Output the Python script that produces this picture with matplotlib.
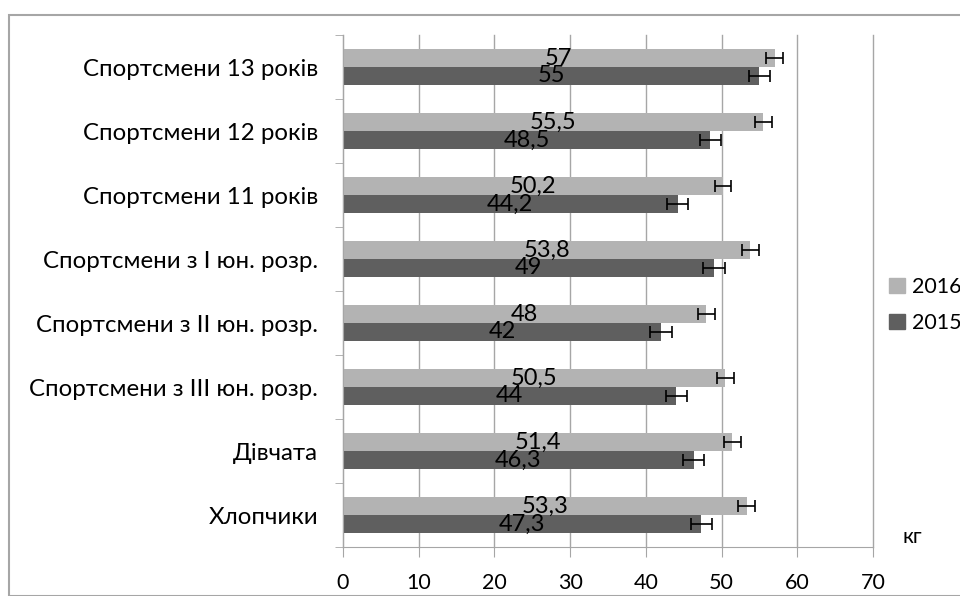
import matplotlib
matplotlib.use("Agg")
import matplotlib.pyplot as plt
from matplotlib.patches import Rectangle
import numpy as np

plt.rcParams['font.family'] = ['Lato', 'DejaVu Sans']

categories = ["Хлопчики", "Дівчата", "Спортсмени з ІІІ юн. розр.", "Спортсмени з ІІ юн. розр.",
              "Спортсмени з І юн. розр.", "Спортсмени 11 років", "Спортсмени 12 років", "Спортсмени 13 років"]
v2016 = [53.3, 51.4, 50.5, 48.0, 53.8, 50.2, 55.5, 57.0]
v2015 = [47.3, 46.3, 44.0, 42.0, 49.0, 44.2, 48.5, 55.0]
lab2016 = ["53,3", "51,4", "50,5", "48", "53,8", "50,2", "55,5", "57"]
lab2015 = ["47,3", "46,3", "44", "42", "49", "44,2", "48,5", "55"]
err2016 = [1.1, 1.1, 1.1, 1.1, 1.1, 1.1, 1.1, 1.1]
err2015 = [1.4, 1.4, 1.4, 1.4, 1.4, 1.4, 1.4, 1.4]

c16 = "#b3b3b3"
c15 = "#5f5f5f"

fig = plt.figure(figsize=(9.6, 5.96), dpi=100)
fig.patches.append(Rectangle((9/960, 0), 1.0, 1 - 15/596, transform=fig.transFigure,
                             fill=False, edgecolor="#a6a6a6", linewidth=1.5))
ax = fig.add_axes([343/960, 1 - 547/596, 530/960, 512/596])

y = np.arange(len(categories))
h = 0.28
ax.barh(y + h/2, v2016, height=h, color=c16, zorder=2, label="2016")
ax.barh(y - h/2, v2015, height=h, color=c15, zorder=2, label="2015")
ax.errorbar(v2016, y + h/2, xerr=err2016, fmt="none", ecolor="black", elinewidth=1.2, capsize=4, capthick=1.2, zorder=3)
ax.errorbar(v2015, y - h/2, xerr=err2015, fmt="none", ecolor="black", elinewidth=1.2, capsize=4, capthick=1.2, zorder=3)

for i in range(len(categories)):
    ax.text(v2016[i] / 2, y[i] + h/2, lab2016[i], ha="center", va="center", fontsize=17, zorder=4)
    ax.text(v2015[i] / 2, y[i] - h/2, lab2015[i], ha="center", va="center", fontsize=17, zorder=4)

ax.set_xlim(0, 70)
ax.set_ylim(-0.5, len(categories) - 0.5)
ax.set_xticks(np.arange(0, 71, 10))
ax.tick_params(axis="x", labelsize=15.5, length=7, color="#a6a6a6", pad=12)
ax.set_yticks(y)
ax.set_yticklabels(categories, fontsize=17.3)
ax.set_yticks(np.arange(-0.5, len(categories), 1), minor=True)
ax.tick_params(axis="y", which="major", length=0, pad=18)
ax.tick_params(axis="y", which="minor", length=6, color="#a6a6a6")
ax.grid(axis="x", color="#a6a6a6", linewidth=1, zorder=0)
for gl in ax.get_xgridlines():
    gl.set_clip_on(False)
for s in ["top", "right"]:
    ax.spines[s].set_visible(False)
ax.spines["left"].set_color("#a6a6a6")
ax.spines["bottom"].set_color("#a6a6a6")
ax.set_axisbelow(True)

fig.text(903/960, 1 - 537/596, "кг", fontsize=15, va="center", ha="left")

handles = [Rectangle((0, 0), 1, 1, color=c16), Rectangle((0, 0), 1, 1, color=c15)]
fig.legend(handles, ["2016", "2015"], loc="center left", bbox_to_anchor=(878/960, 1 - 305/596),
           frameon=False, fontsize=15.5, handlelength=0.75, handleheight=0.75, handletextpad=0.35,
           labelspacing=0.75, borderpad=0)

fig.savefig("out.png", dpi=100)
